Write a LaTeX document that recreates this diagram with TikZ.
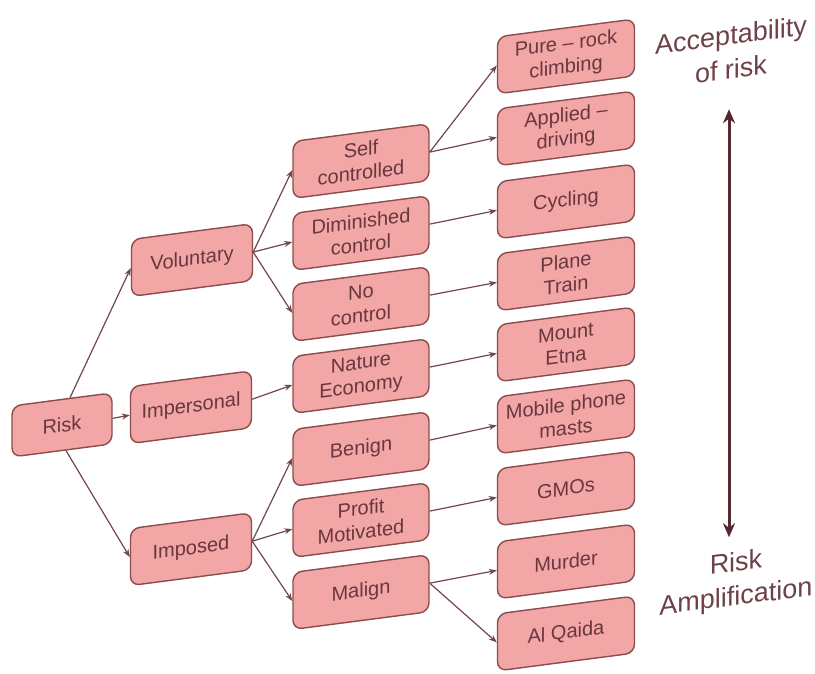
\documentclass[tikz,border=0pt]{standalone}
\usepackage{fontspec}
\setmainfont{Liberation Sans}
\usetikzlibrary{arrows.meta}
\definecolor{boxfill}{RGB}{242,166,166}
\definecolor{boxline}{RGB}{140,75,78}
\definecolor{boxtext}{RGB}{105,55,62}
\definecolor{linkcol}{RGB}{115,70,72}
\definecolor{scalecol}{RGB}{85,40,48}
\definecolor{scaletxt}{RGB}{110,65,72}
\begin{document}
\begin{tikzpicture}[x=1pt,y=-1pt,
  box/.style={draw=boxline, line width=1.4pt, fill=boxfill, rounded corners=9pt,
    text=boxtext, align=center, font=\fontsize{20}{23.5}\selectfont,
    inner sep=0pt, minimum height=57pt},
  smallbox/.style={box, minimum width=100pt, minimum height=51pt},
  leftbox/.style={box, minimum width=121pt},
  midbox/.style={box, minimum width=136pt},
  rightbox/.style={box, minimum width=137pt},
  link/.style={draw=linkcol, line width=1.2pt, -{Stealth[length=8pt,width=6pt]}},
  scaletext/.style={text=scaletxt, align=center, font=\fontsize{27}{34}\selectfont}
]
\useasboundingbox (0,0) rectangle (815,673);

% the whole chart is drawn with a slight upward slant to the right
\begin{scope}[shift={(400,0)}, yslant=0.13, shift={(-400,0)}, transform shape]

% root and first level
\node[smallbox] (risk) at (62,381) {Risk};
\node[leftbox] (vol) at (192,233) {Voluntary};
\node[leftbox] (imp) at (191,380) {Impersonal};
\node[leftbox] (ims) at (191,522) {Imposed};

% second level
\node[midbox] (self) at (361,156) {Self\\controlled};
\node[midbox] (dim)  at (361,228) {Diminished\\control};
\node[midbox] (noc)  at (361,299) {No\\control};
\node[midbox] (nat)  at (361,371) {Nature\\Economy};
\node[midbox] (ben)  at (361,444) {Benign};
\node[midbox] (pro)  at (361,515) {Profit\\Motivated};
\node[midbox] (mal)  at (361,587) {Malign};

% examples
\node[rightbox] (pure)  at (566,78)  {Pure -- rock\\climbing};
\node[rightbox] (appl)  at (566,150) {Applied --\\driving};
\node[rightbox] (cyc)   at (566,223) {Cycling};
\node[rightbox] (plane) at (566,295) {Plane\\Train};
\node[rightbox] (etna)  at (566,366) {Mount\\Etna};
\node[rightbox] (mob)   at (566,438) {Mobile phone\\masts};
\node[rightbox] (gmo)   at (566,510) {GMOs};
\node[rightbox] (mur)   at (566,583) {Murder};
\node[rightbox] (alq)   at (566,655) {Al Qaida};

% links from the root
\draw[link] ([xshift=8pt]risk.north) -- (vol.west);
\draw[link] (risk.east) -- (imp.west);
\draw[link] ([xshift=4pt]risk.south) -- (ims.west);

% links to the second level
\draw[link] (vol.east) -- (self.west);
\draw[link] (vol.east) -- (dim.west);
\draw[link] (vol.east) -- (noc.west);
\draw[link] (imp.east) -- (nat.west);
\draw[link] (ims.east) -- (ben.west);
\draw[link] (ims.east) -- (pro.west);
\draw[link] (ims.east) -- (mal.west);

% links to the examples
\draw[link] (self.east) -- (pure.west);
\draw[link] (self.east) -- (appl.west);
\draw[link] (dim.east) -- (cyc.west);
\draw[link] (noc.east) -- (plane.west);
\draw[link] (nat.east) -- (etna.west);
\draw[link] (ben.east) -- (mob.west);
\draw[link] (pro.east) -- (gmo.west);
\draw[link] (mal.east) -- (mur.west);
\draw[link] (mal.east) -- (alq.west);

% acceptability scale
\node[scaletext] (acc) at (731,95) {Acceptability\\of risk};
\node[scaletext] (amp) at (736,625) {Risk\\Amplification};
\coordinate (top) at (729,152);
\coordinate (bot) at (729,580);
\draw[draw=scalecol, line width=3pt, {Stealth[length=14pt,width=12pt]}-{Stealth[length=14pt,width=12pt]}] (top) -- (bot);
\end{scope}
\end{tikzpicture}
\end{document}
